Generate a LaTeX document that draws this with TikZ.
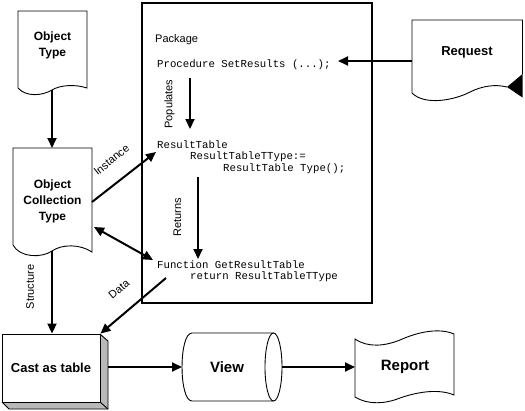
\documentclass[tikz,border=0pt]{standalone}
\usepackage{fontspec}
\setmainfont{Liberation Sans}
\newfontfamily\monof{Liberation Mono}
\usetikzlibrary{arrows.meta}
\begin{document}
\begin{tikzpicture}[x=1pt,y=-1pt,
  outline/.style={line width=0.9pt,line join=miter},
  conn/.style={line width=2pt,-{Triangle[length=10pt,width=9pt]}},
  dconn/.style={line width=2pt,{Triangle[length=10pt,width=9pt]}-{Triangle[length=10pt,width=9pt]}},
  boldtxt/.style={font=\bfseries\fontsize{12}{16}\selectfont,align=center,inner sep=0pt},
  bigtxt/.style={font=\bfseries\fontsize{13}{16}\selectfont,inner sep=0pt},
  hugetxt/.style={font=\bfseries\fontsize{15}{18}\selectfont,inner sep=0pt},
  lbl/.style={font=\fontsize{11}{13}\selectfont,inner sep=0pt},
  code/.style={font=\monof\fontsize{10.7}{12}\selectfont,inner sep=0pt,anchor=base west}]
\useasboundingbox (0,0) rectangle (525,410);

% Object Type (document)
\draw[outline] (18,88) -- (18,11) -- (87,11) -- (87,88)
  .. controls (75,84) and (60,85) .. (52,90)
  .. controls (42,96) and (26,97) .. (18,88);
\node[boldtxt] (ot) at (52.5,45.5) {Object\\Type};
\coordinate (otS) at (52,90);

% Object Collection Type (document)
\draw[outline] (13,245) -- (13,148) -- (92,148) -- (92,252)
  .. controls (80,244) and (62,244) .. (52,251)
  .. controls (42,258) and (20,258) .. (13,245);
\node[boldtxt] (oct) at (52.5,201) {Object\\Collection\\Type};
\coordinate (octN) at (52,148);
\coordinate (octS) at (52,251);
\coordinate (octE) at (92,202);
\coordinate (octE2) at (94,227);

% Request (document with black corner)
\draw[outline] (507,87) .. controls (495,84) and (482,86) .. (470,92)
  .. controls (455,100) and (425,106) .. (412,93) -- (412,20) -- (522.5,20) -- (522.5,74);
\fill (507,87) -- (522.5,74) -- (522.5,97.5) -- cycle;
\node[bigtxt] (req) at (467,52) {Request};
\coordinate (reqW) at (412,61);

% Package box
\draw[line width=2pt] (142,3) rectangle (371.5,303);
\node[lbl,anchor=base west] (pkg) at (155,42) {Package};
\node[code] (proc) at (157,67) {Procedure SetResults (...);};
\node[code] (rt) at (157,148) {ResultTable};
\node[code] (rtt) at (190,159.5) {ResultTableTType:=};
\node[code] (rtty) at (223,171) {ResultTable Type();};
\node[code] (fn) at (157,268) {Function GetResultTable};
\node[code] (ret) at (190,279.5) {return ResultTableTType};
\coordinate (procE) at (338,61);
\coordinate (popA) at (190,78);
\coordinate (popB) at (190,129);
\coordinate (retA) at (198,177);
\coordinate (retB) at (198,259);
\coordinate (rtW) at (156,152);
\coordinate (fnW) at (153,260);
\coordinate (dataA) at (166,278);

% Cast as table (3D box)
\fill[gray!55] (100,334) -- (108,341) -- (108,409) -- (9,409) -- (2,402) -- (100,402) -- cycle;
\draw[outline] (100,334) -- (108,341) -- (108,409) -- (9,409) -- (2,402);
\draw[outline] (100,402) -- (108,409);
\node[outline,draw,fill=white,minimum width=98pt,minimum height=68pt,inner sep=0pt,
  font=\bfseries\fontsize{13}{16}\selectfont] (cast) at (51,368) {Cast as table};
\coordinate (castE) at (108,367);

% View (cylinder)
\draw[outline] (273.5,333) -- (192,333) .. controls (178.7,333) and (178.7,401) .. (192,401) -- (273.5,401);
\draw[outline] (273.5,367) ellipse [x radius=8.5pt, y radius=34pt];
\node[hugetxt] (view) at (227,367) {View};
\coordinate (viewW) at (182,367);
\coordinate (viewE) at (282,367);

% Report (tape)
\draw[outline] (355,339) .. controls (368,348) and (385,346) .. (400,340)
  .. controls (420,331) and (440,328) .. (454,334) -- (454,395)
  .. controls (440,389) and (420,391) .. (400,398)
  .. controls (385,404) and (368,405) .. (355,397) -- cycle;
\node[hugetxt] (rep) at (405,367) {Report};
\coordinate (repW) at (355,367);

% Connectors
\draw[conn] (otS) -- (octN);
\draw[conn] (reqW) -- (procE);
\draw[conn] (popA) -- (popB);
\draw[conn] (retA) -- (retB);
\draw[conn] (octE) -- (rtW);
\draw[dconn] (octE2) -- (fnW);
\draw[conn] (dataA) -- (cast.north east);
\draw[conn] (octS) -- (cast.north -| octS);
\draw[conn] (castE) -- (viewW);
\draw[conn] (viewE) -- (repW);

% Connector labels
\node[lbl,rotate=90] (lpop) at (169.5,104) {Populates};
\node[lbl,rotate=90] (lret) at (177.5,217.5) {Returns};
\node[lbl,rotate=90] (lstr) at (30,287) {Structure};
\node[lbl,rotate=39] (linst) at (111.5,160) {Instance};
\node[lbl,rotate=40] (ldata) at (119,289) {Data};
\end{tikzpicture}
\end{document}
